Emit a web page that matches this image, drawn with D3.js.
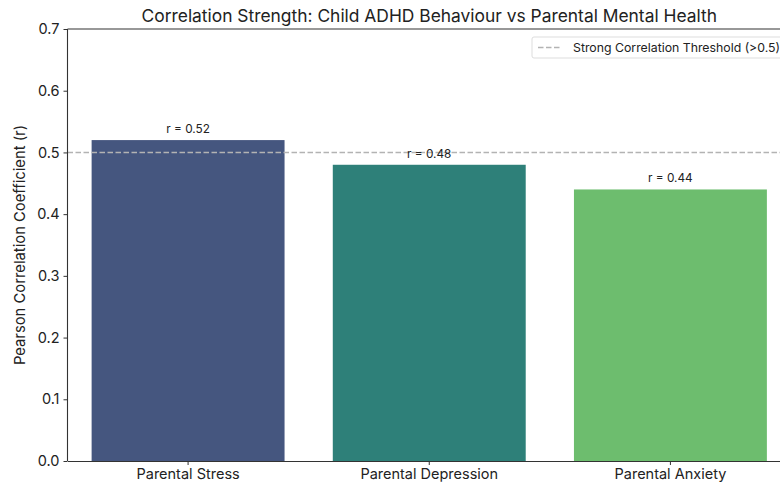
<!DOCTYPE html>
<html>
<head>
<meta charset="utf-8">
<script src="https://cdn.jsdelivr.net/npm/d3@7"></script>
<style>
  html, body { margin: 0; padding: 0; background: #fff; }
  svg { display: block; font-family: "Inter", "Open Sans", "Noto Sans", sans-serif; }
</style>
</head>
<body>
<svg id="chart" width="780" height="486"></svg>
<script>
// Correlation of child ADHD behaviour with parental mental-health measures
const categories = ["Parental Stress", "Parental Depression", "Parental Anxiety"];
const correlations = [0.52, 0.48, 0.44];
const barColors = ["#45567f", "#2e8079", "#6dbd6e"];
const yTicks = [0.0, 0.1, 0.2, 0.3, 0.4, 0.5, 0.6, 0.7];
const threshold = 0.5;
const thresholdLabel = "Strong Correlation Threshold (>0.5)";
const titleText = "Correlation Strength: Child ADHD Behaviour vs Parental Mental Health";
const yLabel = "Pearson Correlation Coefficient (r)";

const svg = d3.select("#chart");
const margin = { left: 67.5, right: 791, top: 29, bottom: 461 };

const x = d3.scaleBand()
  .domain(categories)
  .range([margin.left, margin.right])
  .paddingInner(0.2)
  .paddingOuter(0.1);

const y = d3.scaleLinear()
  .domain([0, 0.7])
  .range([margin.bottom, margin.top]);

// bars
svg.append("g")
  .selectAll("rect")
  .data(categories)
  .join("rect")
  .attr("x", d => x(d))
  .attr("width", x.bandwidth())
  .attr("y", (d, i) => y(correlations[i]))
  .attr("height", (d, i) => y(0) - y(correlations[i]))
  .attr("fill", (d, i) => barColors[i]);

// threshold line
svg.append("line")
  .attr("x1", margin.left).attr("x2", margin.right)
  .attr("y1", y(threshold)).attr("y2", y(threshold))
  .attr("stroke", "#b3b3b3")
  .attr("stroke-width", 1.4)
  .attr("stroke-dasharray", "5.5,2.5");

// value labels
svg.append("g")
  .selectAll("text")
  .data(categories)
  .join("text")
  .attr("x", d => x(d) + x.bandwidth() / 2)
  .attr("y", (d, i) => y(correlations[i]) - 7)
  .attr("text-anchor", "middle")
  .attr("font-size", 11.8)
  .attr("fill", "#222")
  .text((d, i) => "r = " + correlations[i].toFixed(2));

// axes
const yAxis = svg.append("g")
  .attr("transform", `translate(${margin.left},0)`)
  .call(d3.axisLeft(y).tickValues(yTicks).tickFormat(d3.format(".1f")).tickSize(4).tickPadding(4));
const xAxis = svg.append("g")
  .attr("transform", `translate(0,${margin.bottom})`)
  .call(d3.axisBottom(x).tickSize(4).tickPadding(4).tickSizeOuter(0));

[yAxis, xAxis].forEach(g => {
  g.selectAll("path.domain").attr("stroke", "#333").attr("stroke-width", 1.1);
  g.selectAll(".tick line").attr("stroke", "#333");
  g.selectAll(".tick text").attr("fill", "#222").attr("font-size", 14.5)
    .attr("font-family", "\"Inter\", \"Open Sans\", sans-serif");
});
yAxis.select("path.domain").attr("d", `M0,${margin.bottom}V${margin.top}`);

// top spine
svg.append("line")
  .attr("x1", margin.left).attr("x2", margin.right)
  .attr("y1", margin.top).attr("y2", margin.top)
  .attr("stroke", "#333").attr("stroke-width", 1.1);

// title
svg.append("text")
  .attr("x", (margin.left + margin.right) / 2)
  .attr("y", 22)
  .attr("text-anchor", "middle")
  .attr("font-size", 17.4)
  .attr("fill", "#222")
  .text(titleText);

// y label
svg.append("text")
  .attr("transform", `translate(25,${(margin.top + margin.bottom) / 2}) rotate(-90)`)
  .attr("text-anchor", "middle")
  .attr("font-size", 14.8)
  .attr("fill", "#222")
  .text(yLabel);

// legend
const lg = svg.append("g").attr("transform", "translate(532,37)");
lg.append("rect")
  .attr("width", 262).attr("height", 21).attr("rx", 2)
  .attr("fill", "#fff").attr("fill-opacity", 0.8)
  .attr("stroke", "#ddd");
lg.append("line")
  .attr("x1", 6).attr("x2", 30).attr("y1", 10.5).attr("y2", 10.5)
  .attr("stroke", "#b3b3b3").attr("stroke-width", 1.4)
  .attr("stroke-dasharray", "5.5,2.5");
lg.append("text")
  .attr("x", 41).attr("y", 15)
  .attr("font-size", 12.3)
  .attr("fill", "#222")
  .text(thresholdLabel);
</script>
</body>
</html>
